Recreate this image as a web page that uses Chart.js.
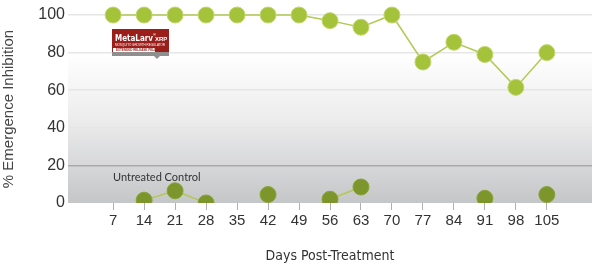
<!DOCTYPE html>
<html>
<head>
<meta charset="utf-8">
<script src="https://cdn.jsdelivr.net/npm/chart.js@4"></script>
<style>
  html, body { margin:0; padding:0; background:#fff; }
  #wrap { width:601px; height:265px; position:relative; }
</style>
</head>
<body>
<div id="wrap"><canvas id="emergenceChart"></canvas></div>
<script>
// days post-treatment
var days = [7, 14, 21, 28, 35, 42, 49, 56, 63, 70, 77, 84, 91, 98, 105];
// MetaLarv XRP treated
var treated = [100, 100, 100, 100, 100, 100, 100, 97, 93.5, 100, 75, 85.5, 79, 61.5, 80];
// untreated control (gaps = no sample)
var control = [null, 1.5, 6.5, 0, null, 4.5, null, 2, 8.5, null, null, null, 2.5, null, 4.5];
var yTicks = [0, 20, 40, 60, 80, 100];

function toPoints(arr){
	var out = [];
	for(var i=0;i<days.length;i++){
		out.push({x: days[i], y: arr[i]});
	}
	return out;
}

//배경 그라데이션 + 로고/라벨
var decor = {
	id: 'decor',
	beforeDraw: function(chart){
		var ctx = chart.ctx, a = chart.chartArea, y = chart.scales.y;
		var top80 = y.getPixelForValue(80);
		var g = ctx.createLinearGradient(0, top80, 0, a.bottom);
		g.addColorStop(0, '#ffffff');
		g.addColorStop(0.45, '#ececed');
		g.addColorStop(1, '#c5c6c8');
		ctx.save();
		ctx.fillStyle = g;
		ctx.fillRect(a.left, top80, a.right - a.left, a.bottom - top80);
		ctx.restore();
	},
	afterDraw: function(chart){
		var ctx = chart.ctx;
		ctx.save();
		// product badge
		ctx.fillStyle = '#8f8f8f';
		ctx.fillRect(112, 52, 57, 4);
		ctx.beginPath(); ctx.moveTo(154,56); ctx.lineTo(160,56); ctx.lineTo(157,59); ctx.fill();
		ctx.fillStyle = '#9a1e1a';
		ctx.fillRect(112, 29, 57, 23);
		ctx.fillStyle = '#ffffff';
		ctx.textBaseline = 'alphabetic';
		ctx.font = 'bold 8px "DejaVu Sans Condensed", "Liberation Sans", sans-serif';
		ctx.fillText('MetaLarv', 115, 41);
		ctx.font = 'bold 4px "Liberation Sans", sans-serif';
		ctx.fillText('®', 153, 36);
		ctx.font = 'bold 6px "Liberation Sans", sans-serif';
		ctx.fillText('XRP', 155, 41);
		ctx.font = '3px "Liberation Sans", sans-serif';
		ctx.fillText('MOSQUITO GROWTH REGULATOR', 115, 46);
		ctx.fillRect(113, 48, 42, 4);
		ctx.fillStyle = '#9a1e1a';
		ctx.font = 'bold 3px "Liberation Sans", sans-serif';
		ctx.fillText('EXTENDED RELEASE PELLET', 116, 51);
		// series label
		ctx.fillStyle = '#333333';
		ctx.font = '11px "Lato", "Liberation Sans", sans-serif';
		ctx.fillText('Untreated Control', 113, 181);
		ctx.restore();
	}
};

var emergenceChart = new Chart(document.getElementById('emergenceChart'), {
	type: 'line',
	data: {
		datasets: [
			{
				label: 'MetaLarv XRP',
				data: toPoints(treated),
				borderColor: '#b3c955',
				borderWidth: 1.5,
				pointRadius: 8,
				pointHoverRadius: 8,
				pointBackgroundColor: '#a4c23a',
				pointBorderColor: '#c3d86f',
				pointBorderWidth: 1,
				clip: false
			},
			{
				label: 'Untreated Control',
				data: toPoints(control),
				spanGaps: false,
				borderColor: '#b3c955',
				borderWidth: 1.5,
				pointRadius: 8,
				pointHoverRadius: 8,
				pointBackgroundColor: '#7c962c',
				pointBorderColor: '#8aa337',
				pointBorderWidth: 1
			}
		]
	},
	options: {
		responsive: true,
		maintainAspectRatio: false,
		animation: false,
		layout: { padding: { top: 15, right: 0, left: 0, bottom: 0 } },
		plugins: {
			legend: { display: false },
			tooltip: { enabled: false }
		},
		scales: {
			x: {
				type: 'linear',
				min: -3.2,
				max: 115.2,
				afterBuildTicks: function(axis){
					axis.ticks = days.map(function(d){ return {value: d}; });
				},
				afterFit: function(axis){ axis.height = 62; },
				grid: {
					display: true,
					drawOnChartArea: false,
					drawTicks: true,
					tickLength: 7,
					tickColor: '#b0b0b0',
					lineWidth: 1
				},
				border: { display: false },
				ticks: {
					color: '#333333',
					font: { family: '"Liberation Sans", sans-serif', size: 15 },
					padding: 2,
					maxRotation: 0,
					autoSkip: false
				},
				title: {
					display: true,
					text: 'Days Post-Treatment',
					color: '#333333',
					font: { family: '"DejaVu Sans Condensed", "Liberation Sans", sans-serif', size: 14 },
					padding: { top: 16, bottom: 0 }
				}
			},
			y: {
				min: 0,
				max: 100,
				afterBuildTicks: function(axis){
					axis.ticks = yTicks.map(function(v){ return {value: v}; });
				},
				afterFit: function(axis){ axis.width = 68; },
				grid: {
					drawTicks: false,
					color: function(c){ return c.tick && c.tick.value === 20 ? '#a9aaac' : '#e6e6e6'; },
					lineWidth: function(c){ return c.tick && c.tick.value === 0 ? 0 : 1.5; }
				},
				border: { display: false },
				ticks: {
					color: '#333333',
					font: { family: '"Liberation Sans", sans-serif', size: 16 },
					padding: 3
				},
				title: {
					display: true,
					text: '% Emergence Inhibition',
					color: '#444444',
					font: { family: '"Liberation Sans", sans-serif', size: 15 },
					padding: { top: 0, bottom: 6 }
				}
			}
		}
	},
	plugins: [decor]
});
</script>
</body>
</html>
